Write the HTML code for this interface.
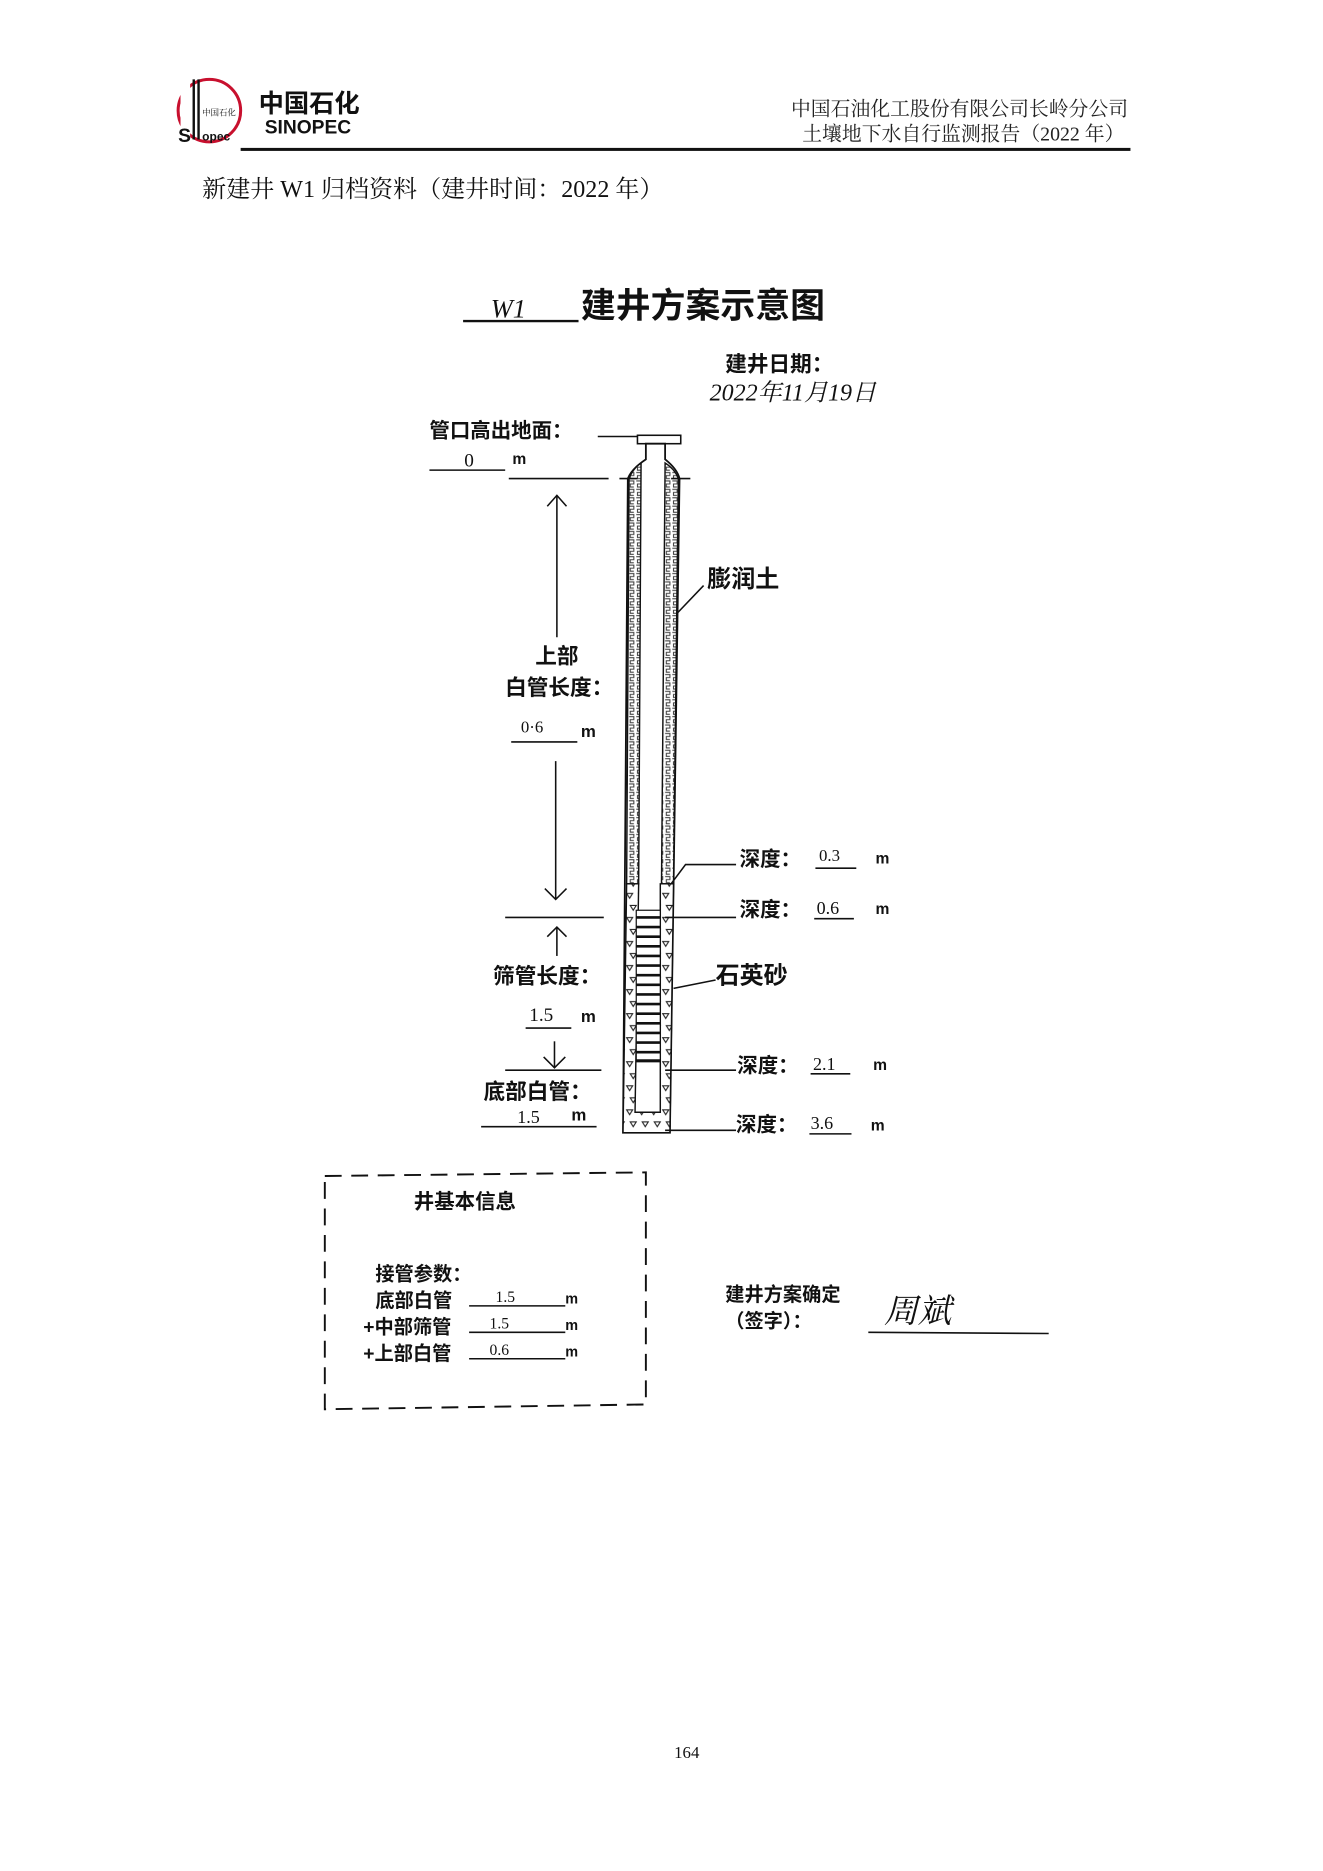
<!DOCTYPE html>
<html><head><meta charset="utf-8"><style>
html,body{margin:0;padding:0;background:#fff}
svg{display:block}
text{font-family:"Liberation Serif","Noto Serif CJK SC","Noto Sans CJK SC",serif}
.b{font-family:"Liberation Sans","Noto Sans CJK SC",sans-serif;font-weight:bold}
.h{font-family:"Liberation Sans","Noto Sans CJK SC",sans-serif}
</style></head><body>
<svg width="1323" height="1871" viewBox="0 0 1100 1556" xmlns="http://www.w3.org/2000/svg">
<defs>
<pattern id="ben" width="6" height="7" patternUnits="userSpaceOnUse">
<rect width="6" height="7" fill="#fff"/>
<path d="M1 1h4v2.5h-3v2.5h3" fill="none" stroke="#444" stroke-width="0.9"/>
</pattern>
<pattern id="sand" width="10" height="20" patternUnits="userSpaceOnUse">
<rect width="10" height="20" fill="#fff"/>
<path d="M1 3h5l-2.5 4z M4 13h5l-2.5 4z" fill="none" stroke="#222" stroke-width="0.9"/>
</pattern>
</defs>
<!-- header -->
<circle cx="174" cy="92" r="26" fill="none" stroke="#c8102e" stroke-width="2.5"/>
<rect x="150" y="68" width="8" height="50" fill="#fff"/>
<text x="148" y="118" class="b" font-size="16" fill="#111">S</text>
<rect x="160" y="66" width="2" height="50" fill="#111"/><rect x="164" y="66" width="2" height="50" fill="#111"/>
<text x="168" y="96" font-size="7" fill="#111">中国石化</text>
<text x="168" y="117" class="b" font-size="10" fill="#111">opec</text>
<text x="215" y="93" class="b" font-size="21" fill="#111">中国石化</text>
<text x="220" y="111" class="b" font-size="16" fill="#111">SINOPEC</text>
<text x="938" y="96" font-size="16.5" text-anchor="end" fill="#222">中国石油化工股份有限公司长岭分公司</text>
<text x="935" y="117" font-size="16.5" text-anchor="end" fill="#222">土壤地下水自行监测报告（2022 年）</text>
<rect x="200" y="123" width="740" height="2.5" fill="#111"/>
<text x="168" y="164" font-size="20" fill="#111">新建井 W1 归档资料（建井时间：2022 年）</text>

<!-- title -->
<line x1="385" y1="267" x2="481" y2="267" stroke="#111" stroke-width="2"/>
<text x="408" y="264" font-size="22" font-style="italic" fill="#111">W1</text>
<text x="483" y="264" class="b" font-size="29" fill="#111">建井方案示意图</text>
<text x="603" y="309" class="b" font-size="18" fill="#111">建井日期：</text>
<text x="590" y="333" font-size="20" font-style="italic" fill="#111">2022年11月19日</text>

<text x="357" y="364" class="b" font-size="17" fill="#111">管口高出地面：</text>
<line x1="497" y1="363" x2="530" y2="363" stroke="#111" stroke-width="1.3"/>
<rect x="530" y="362" width="36" height="7" fill="#fff" stroke="#111" stroke-width="1.3"/>
<line x1="357" y1="391" x2="420" y2="391" stroke="#111" stroke-width="1.2"/>
<text x="386" y="388" font-size="16" fill="#111">0</text>
<text x="426" y="386" class="b" font-size="13" fill="#111">m</text>
<line x1="423" y1="398" x2="506" y2="398" stroke="#111" stroke-width="1.3"/>

<!-- well -->
<path d="M522 398 L518 942 L557 942 L565 398 Q563 390 553 382 L553 369 L537 369 L537 382 Q525 390 522 398Z" fill="#fff" stroke="#111" stroke-width="1.5"/>
<path d="M523 398 L521 735 L531 735 L533 385 Q526 390 523 398Z" fill="url(#ben)" stroke="#111" stroke-width="1.2"/>
<path d="M564 398 L560 735 L550 735 L553 385 Q561 390 564 398Z" fill="url(#ben)" stroke="#111" stroke-width="1.2"/>
<path d="M521 735 L518 942 L557 942 L560 735 L549 735 L549 925 L528 925 L531 735Z" fill="url(#sand)" stroke="#111" stroke-width="1.2"/>
<line x1="515" y1="398" x2="530" y2="398" stroke="#111" stroke-width="1.3"/>
<line x1="558" y1="398" x2="574" y2="398" stroke="#111" stroke-width="1.3"/>
<rect x="529" y="757" width="20" height="126" fill="#fff" stroke="#111" stroke-width="1"/>
<g stroke="#111" stroke-width="2.2">
<line x1="529" y1="763" x2="549" y2="763"/><line x1="529" y1="771" x2="549" y2="771"/><line x1="529" y1="779" x2="549" y2="779"/><line x1="529" y1="787" x2="549" y2="787"/><line x1="529" y1="795" x2="549" y2="795"/><line x1="529" y1="803" x2="549" y2="803"/><line x1="529" y1="811" x2="549" y2="811"/><line x1="529" y1="819" x2="549" y2="819"/><line x1="529" y1="827" x2="549" y2="827"/><line x1="529" y1="835" x2="549" y2="835"/><line x1="529" y1="843" x2="549" y2="843"/><line x1="529" y1="851" x2="549" y2="851"/><line x1="529" y1="859" x2="549" y2="859"/><line x1="529" y1="867" x2="549" y2="867"/><line x1="529" y1="875" x2="549" y2="875"/><line x1="529" y1="882" x2="549" y2="882"/>
</g>

<!-- left dims -->
<g stroke="#111" stroke-width="1.3" fill="none">
<line x1="463" y1="412" x2="463" y2="530"/><path d="M455 421 L463 412 L471 421"/>
<line x1="462" y1="633" x2="462" y2="748"/><path d="M453 739 L462 748 L471 739"/>
<line x1="420" y1="763" x2="502" y2="763"/>
<line x1="463" y1="771" x2="463" y2="795"/><path d="M455 779 L463 771 L471 779"/>
<line x1="461" y1="866" x2="461" y2="888"/><path d="M452 879 L461 888 L470 879"/>
<line x1="420" y1="890" x2="500" y2="890"/>
<line x1="425" y1="617" x2="480" y2="617"/>
<line x1="437" y1="855" x2="475" y2="855"/>
<line x1="400" y1="937" x2="496" y2="937"/>
</g>
<text x="445" y="552" class="b" font-size="18" fill="#111">上部</text>
<text x="420" y="578" class="b" font-size="18" fill="#111">白管长度：</text>
<text x="433" y="609" font-size="14" fill="#111">0·6</text>
<text x="483" y="613" class="b" font-size="14" fill="#111">m</text>
<text x="410" y="818" class="b" font-size="18" fill="#111">筛管长度：</text>
<text x="440" y="849" font-size="16" fill="#111">1.5</text>
<text x="483" y="850" class="b" font-size="14" fill="#111">m</text>
<text x="402" y="914" class="b" font-size="18" fill="#111">底部白管：</text>
<text x="430" y="934" font-size="15" fill="#111">1.5</text>
<text x="475" y="932" class="b" font-size="14" fill="#111">m</text>

<!-- right labels -->
<g stroke="#111" stroke-width="1.3" fill="none">
<line x1="563" y1="510" x2="585" y2="487"/>
<path d="M558 735 L570 719 L612 719"/>
<line x1="553" y1="763" x2="612" y2="763"/>
<line x1="560" y1="822" x2="595" y2="815"/>
<line x1="553" y1="890" x2="612" y2="890"/>
<line x1="553" y1="940" x2="612" y2="940"/>
<line x1="678" y1="722" x2="712" y2="722"/>
<line x1="677" y1="764" x2="710" y2="764"/>
<line x1="674" y1="893" x2="707" y2="893"/>
<line x1="673" y1="943" x2="708" y2="943"/>
</g>
<text x="588" y="488" class="b" font-size="20" fill="#111">膨润土</text>
<text x="595" y="818" class="b" font-size="20" fill="#111">石英砂</text>
<text x="615" y="720" class="b" font-size="17" fill="#111">深度：</text><text x="681" y="716" font-size="14" fill="#111">0.3</text><text x="728" y="718" class="b" font-size="13" fill="#111">m</text>
<text x="615" y="762" class="b" font-size="17" fill="#111">深度：</text><text x="679" y="760" font-size="15" fill="#111">0.6</text><text x="728" y="760" class="b" font-size="13" fill="#111">m</text>
<text x="613" y="892" class="b" font-size="17" fill="#111">深度：</text><text x="676" y="890" font-size="15" fill="#111">2.1</text><text x="726" y="890" class="b" font-size="13" fill="#111">m</text>
<text x="612" y="941" class="b" font-size="17" fill="#111">深度：</text><text x="674" y="939" font-size="15" fill="#111">3.6</text><text x="724" y="940" class="b" font-size="13" fill="#111">m</text>

<!-- info box -->
<path d="M270 978 L537 975 L537 1168 L270 1172Z" fill="none" stroke="#111" stroke-width="1.6" stroke-dasharray="14,8"/>
<text x="344" y="1005" class="b" font-size="17" fill="#111">井基本信息</text>
<text x="312" y="1065" class="b" font-size="16" fill="#111">接管参数：</text>
<text x="312" y="1087" class="b" font-size="16" fill="#111">底部白管</text>
<text x="302" y="1109" class="b" font-size="16" fill="#111">+中部筛管</text>
<text x="302" y="1131" class="b" font-size="16" fill="#111">+上部白管</text>
<g stroke="#111" stroke-width="1.3"><line x1="390" y1="1086" x2="470" y2="1086"/><line x1="390" y1="1108" x2="470" y2="1108"/><line x1="390" y1="1130" x2="470" y2="1130"/></g>
<text x="412" y="1083" font-size="13" fill="#111">1.5</text>
<text x="407" y="1105" font-size="13" fill="#111">1.5</text>
<text x="407" y="1127" font-size="13" fill="#111">0.6</text>
<text x="470" y="1084" class="b" font-size="12" fill="#111">m</text>
<text x="470" y="1106" class="b" font-size="12" fill="#111">m</text>
<text x="470" y="1128" class="b" font-size="12" fill="#111">m</text>

<text x="603" y="1082" class="b" font-size="16" fill="#111">建井方案确定</text>
<text x="603" y="1104" class="b" font-size="16" fill="#111">（签字）：</text>
<text x="735" y="1100" font-size="28" fill="#111" font-style="italic">周斌</text>
<line x1="722" y1="1108" x2="872" y2="1109" stroke="#111" stroke-width="1.3"/>

<text x="571" y="1462" font-size="14" text-anchor="middle" fill="#111">164</text>
</svg>
</body></html>
